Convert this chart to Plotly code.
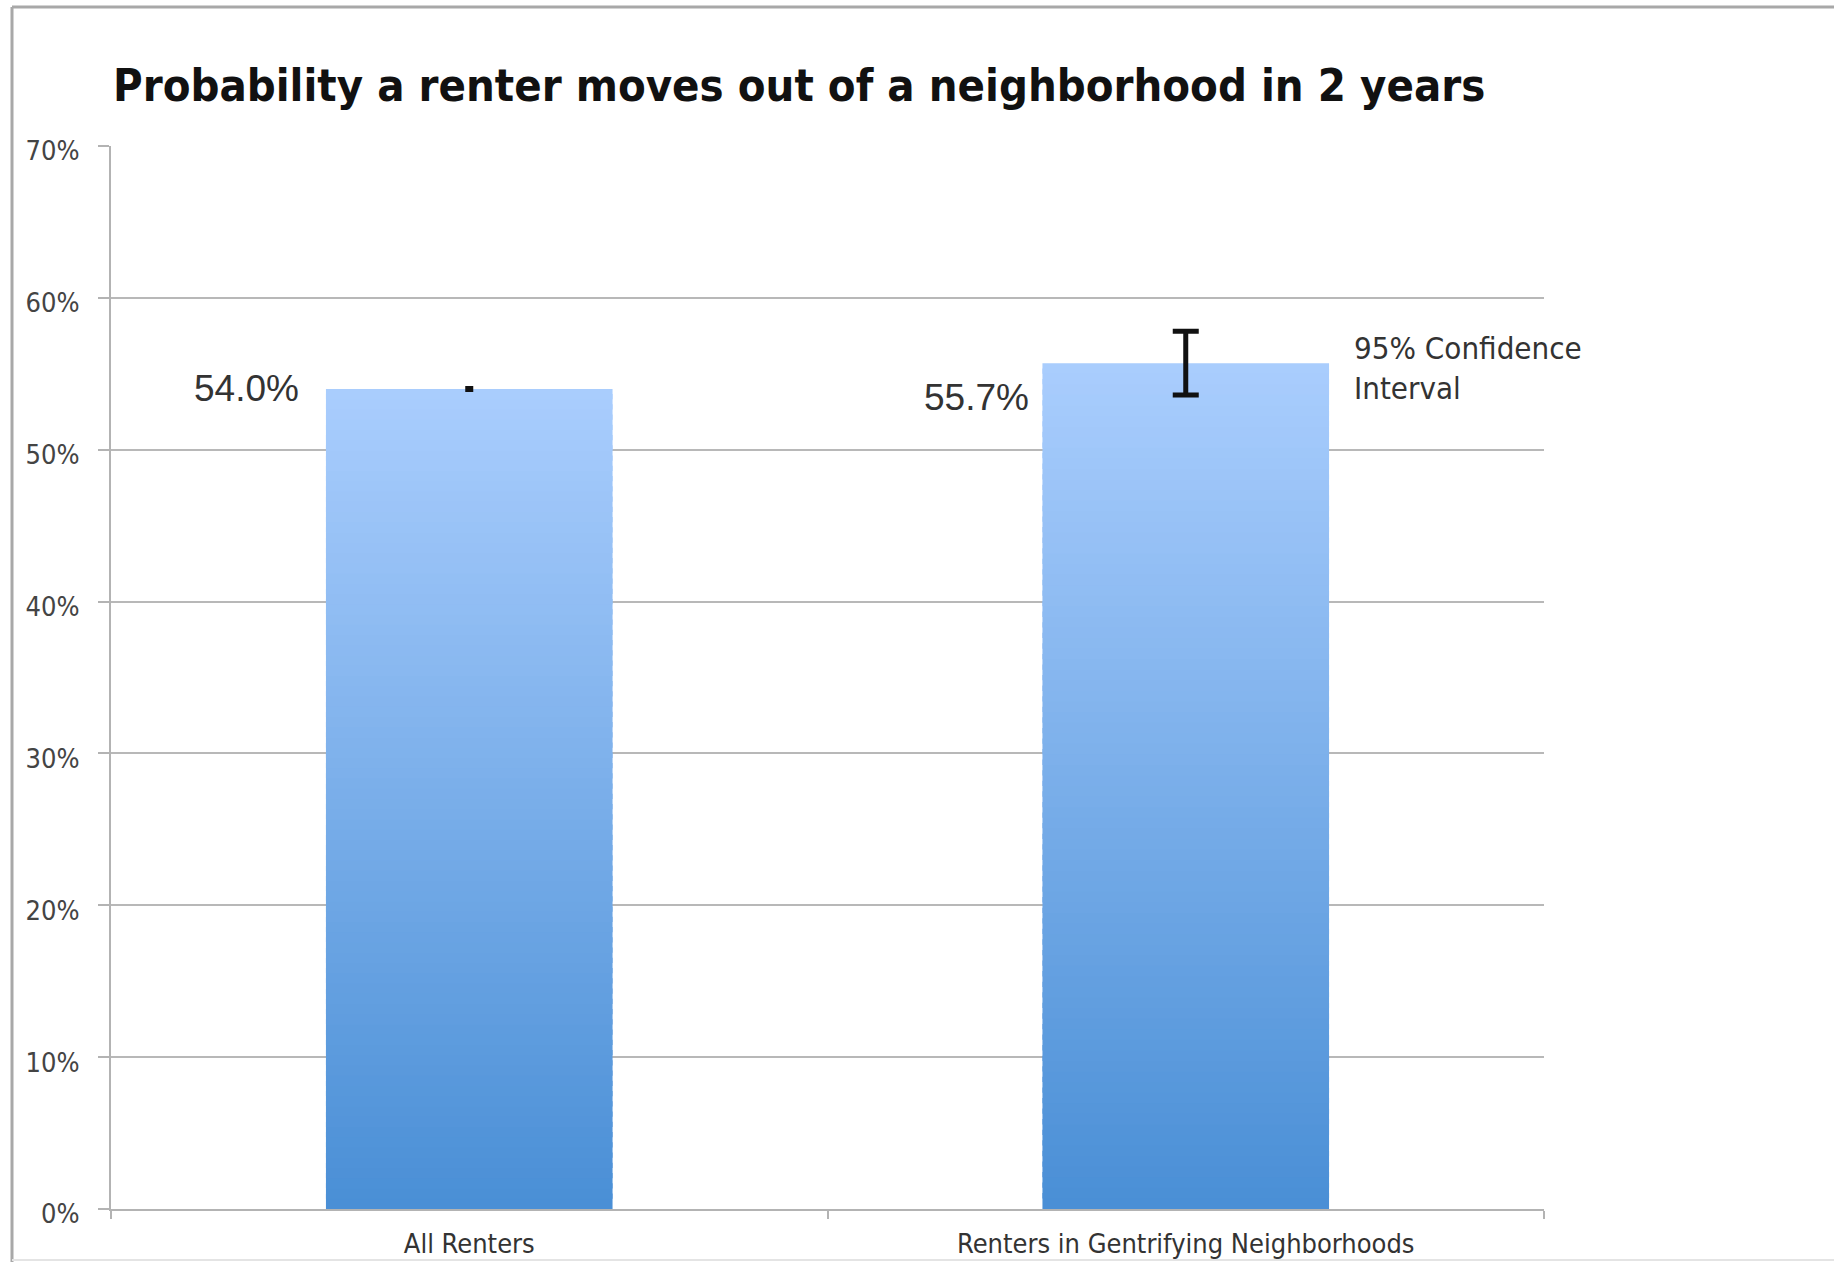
import plotly.graph_objects as go

# Chart data
categories = ["All Renters", "Renters in Gentrifying Neighborhoods"]
move_prob = [54.0, 55.7]          # percent of renters moving out within 2 years
ci_half_width = [0.1, 2.1]        # 95% confidence interval half-widths (percent points)
y_ticks = [0, 10, 20, 30, 40, 50, 60, 70]
y_tick_text = [f"{t}%" for t in y_ticks]

title_text = "Probability a renter moves out of a neighborhood in 2 years"
ci_note = "95% Confidence<br>Interval"

# Page geometry
W, H = 1834, 1262
M_L, M_R, M_T, M_B = 111, 290, 146, 53
PLOT_W = W - M_L - M_R
PLOT_H = H - M_T - M_B

# Vertical gradient for the bars, built from stacked slices of each bar
TOP_RGB = (169, 205, 253)
BOT_RGB = (74, 143, 214)
N_SLICES = 80
OVERLAP = 0.35  # percent points each slice reaches into the next to hide seams


def blend(t):
    r = [round(b + (a - b) * t) for a, b in zip(TOP_RGB, BOT_RGB)]
    return f"rgb({r[0]},{r[1]},{r[2]})"


seg_x, seg_base, seg_h, seg_col = [], [], [], []
for cat, val in zip(categories, move_prob):
    step = val / N_SLICES
    for i in range(N_SLICES):
        base = i * step
        seg_x.append(cat)
        seg_base.append(base)
        seg_h.append(min(step + OVERLAP, val - base))
        seg_col.append(blend(i / (N_SLICES - 1)))

fig = go.Figure()
fig.add_trace(go.Bar(
    x=seg_x, y=seg_h, base=seg_base,
    marker=dict(color=seg_col, line=dict(width=0)),
    width=0.4, hoverinfo="skip", showlegend=False,
))

# Error bars (one trace per category so each has its own cap width)
cap_widths = [4, 13]
thicknesses = [3, 5]
for cat, val, err, cw, th in zip(categories, move_prob, ci_half_width, cap_widths, thicknesses):
    fig.add_trace(go.Scatter(
        x=[cat], y=[val], mode="markers",
        marker=dict(size=0.1, color="rgba(0,0,0,0)"),
        error_y=dict(type="data", array=[err], visible=True,
                     color="#111111", thickness=th, width=cw),
        hoverinfo="skip", showlegend=False,
    ))

# Value labels to the left of each bar
label_shift = [(-168, 0), (-155, -34)]
for cat, val, (dx, dy) in zip(categories, move_prob, label_shift):
    fig.add_annotation(
        x=cat, y=val, text=f"{val:.1f}%", showarrow=False,
        xanchor="right", yanchor="middle", xshift=dx, yshift=dy,
        font=dict(family="Liberation Sans, Arial, sans-serif", size=37, color="#333333"),
    )

# Note next to the confidence interval
fig.add_annotation(
    x=categories[1], y=move_prob[1], text=ci_note, showarrow=False,
    xanchor="left", yanchor="middle", xshift=166, yshift=-5, align="left",
    font=dict(family="DejaVu Sans Condensed, DejaVu Sans, sans-serif", size=31, color="#333333"),
)

# Outer frame lines around the chart
def px_to_paper_x(p):
    return (p - M_L) / PLOT_W


def px_to_paper_y(p):
    return (H - M_B - p) / PLOT_H


frame = dict(color="#a8a8a8", width=3)
fig.add_shape(type="line", xref="paper", yref="paper",
              x0=px_to_paper_x(12), x1=px_to_paper_x(12),
              y0=px_to_paper_y(7), y1=px_to_paper_y(H), line=frame)
fig.add_shape(type="line", xref="paper", yref="paper",
              x0=px_to_paper_x(12), x1=px_to_paper_x(W),
              y0=px_to_paper_y(7), y1=px_to_paper_y(7), line=frame)
fig.add_shape(type="line", xref="paper", yref="paper",
              x0=px_to_paper_x(12), x1=px_to_paper_x(W),
              y0=px_to_paper_y(1260), y1=px_to_paper_y(1260),
              line=dict(color="#e4e4e4", width=2))

fig.update_layout(
    width=W, height=H,
    margin=dict(l=M_L, r=M_R, t=M_T, b=M_B, autoexpand=False),
    paper_bgcolor="white", plot_bgcolor="white",
    barmode="overlay",
    title=dict(
        text=title_text, x=113 / W, xanchor="left", xref="container",
        y=1 - 85 / H, yanchor="middle", yref="container",
        font=dict(family="DejaVu Sans Condensed, DejaVu Sans, sans-serif",
                  size=45, color="#111111", weight="bold"),
    ),
    xaxis=dict(
        type="category", categoryorder="array", categoryarray=categories,
        range=[-0.5, 1.5],
        showline=True, linecolor="#b3b3b3", linewidth=2,
        ticks="outside", tickson="boundaries", ticklen=8, tickwidth=2, tickcolor="#b3b3b3",
        showgrid=False, zeroline=False, ticklabelstandoff=10,
        tickfont=dict(family="DejaVu Sans Condensed, DejaVu Sans, sans-serif", size=27, color="#333333"),
        fixedrange=True,
    ),
    yaxis=dict(
        range=[0, 70], tickvals=y_ticks, ticktext=y_tick_text,
        showline=True, linecolor="#b3b3b3", linewidth=2,
        ticks="outside", ticklen=11, tickwidth=2, tickcolor="#b3b3b3",
        showgrid=True, gridcolor="#b8b8b8", gridwidth=2, zeroline=False,
        ticklabelstandoff=13, ticklabelshift=5,
        tickfont=dict(family="DejaVu Sans Condensed, DejaVu Sans, sans-serif", size=27, color="#444444"),
        fixedrange=True,
    ),
)

fig.write_html("out.html")
